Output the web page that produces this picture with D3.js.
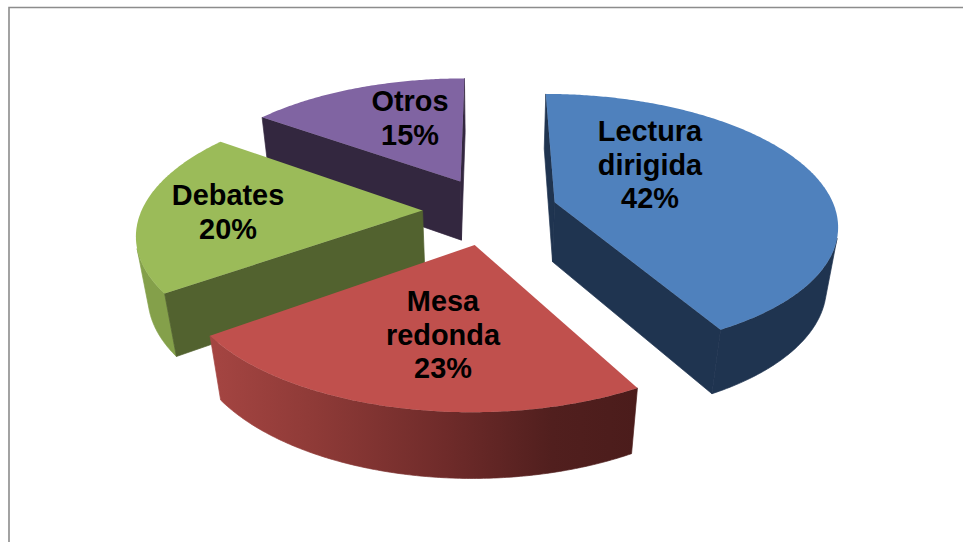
<!DOCTYPE html>
<html><head><meta charset="utf-8">
<script src="https://cdn.jsdelivr.net/npm/d3@7"></script>
<style>html,body{margin:0;padding:0;background:#fff;overflow:hidden}svg{display:block}</style>
</head><body><svg id="c" width="963" height="542"></svg>
<script>
const categories = ["Lectura dirigida", "Mesa redonda", "Debates", "Otros"];
const values = [42, 23, 20, 15];
const labelLines = [["Lectura", "dirigida", "42%"], ["Mesa", "redonda", "23%"], ["Debates", "20%"], ["Otros", "15%"]];
const topColors = ["#4f81bd", "#c0504d", "#9bbb59", "#8064a2"];
const cutColors = ["#1f3450", "#7a3230", "#52622f", "#33273f"];
const sideColors = ["#1f3450", "url(#redSide)", "#84a04a", "#33273f"];
const drawOrder = [3, 2, 0, 1];
const labelCenters = [[650, 141], [443, 311], [228, 205], [410, 111]];

const W = 963, H = 542, cx = 490, cy = 210.5, explodeX = 0.24, explodeY = 0.265, persp = 0.16, sink = 0.034, depth = 62, fontSize = 28.9, lineH = 33.6;
const svg = d3.select("#c");
const sx = d3.scaleLinear().domain([-1, 1]).range([-281, 281]);
const sy = d3.scaleLinear().domain([-1, 1]).range([-128, 128]);

function project(X, Y, Z) {
  const w = 1 - persp * Y + sink * Z;
  return [cx + sx(X) / w, cy + (sy(Y) + depth * Z) / w];
}
const arcs = d3.pie().sort(null).value(d => d)(values);
const poly = d3.line();
const area2 = p => d3.polygonArea(p);

const defs = svg.append("defs");

svg.append("path").attr("d", `M9,${H}V7.5H${W}`).attr("fill", "none").attr("stroke", "#8c8c8c").attr("stroke-width", 1.6);

const layer = svg.append("g");
drawOrder.forEach(i => {
  const a = arcs[i], mid = (a.startAngle + a.endAngle) / 2;
  const ox = Math.sin(mid) * explodeX, oy = -Math.cos(mid) * explodeY;
  const pt = (t, Z) => project(ox + Math.sin(t), oy - Math.cos(t), Z);
  const ap = Z => project(ox, oy, Z);
  const ts = d3.range(a.startAngle, a.endAngle, 0.01).concat([a.endAngle]);
  // outer wall: only segments facing the viewer
  const front = [];
  for (let k = 0; k < ts.length - 1; k++) {
    const q = [pt(ts[k], 0), pt(ts[k + 1], 0), pt(ts[k + 1], 1), pt(ts[k], 1)];
    if (area2(q) > 0) front.push(ts[k], ts[k + 1]);
  }
  if (i === 1) {
    const g = defs.append("linearGradient").attr("id", "redSide").attr("gradientUnits", "userSpaceOnUse")
      .attr("x1", pt(a.endAngle, 0)[0]).attr("x2", pt(a.startAngle, 0)[0]).attr("y1", 0).attr("y2", 0);
    [[0, "#a54542"], [0.25, "#8e3a37"], [0.55, "#6f2b2a"], [0.8, "#511f1e"], [1, "#4b1c1b"]].forEach(s => g.append("stop").attr("offset", s[0]).attr("stop-color", s[1]));
  }
  if (front.length) {
    const fp = front.map(t => pt(t, 0)).concat(front.slice().reverse().map(t => pt(t, 1)));
    layer.append("path").attr("d", poly(fp) + "Z").attr("fill", sideColors[i]).attr("stroke", sideColors[i]).attr("stroke-width", 0.7);
  }
  // cut faces, wound the same way as the outer wall
  [[ap(0), pt(a.startAngle, 0), pt(a.startAngle, 1), ap(1)],
   [pt(a.endAngle, 0), ap(0), ap(1), pt(a.endAngle, 1)]].forEach(q => {
    if (area2(q) > 0) layer.append("path").attr("d", poly(q) + "Z").attr("fill", cutColors[i]).attr("stroke", cutColors[i]).attr("stroke-width", 0.7);
  });
  // top
  const tp = [ap(0)].concat(ts.map(t => pt(t, 0)));
  layer.append("path").attr("d", poly(tp) + "Z").attr("fill", topColors[i]);
});

categories.forEach((c, i) => {
  const t = svg.append("text").attr("text-anchor", "middle")
    .attr("font-family", "'Liberation Sans', Arial, sans-serif").attr("font-weight", "bold")
    .attr("font-size", fontSize).attr("fill", "#000");
  labelLines[i].forEach((s, j) => t.append("tspan").attr("x", labelCenters[i][0]).attr("y", labelCenters[i][1] + j * lineH).text(s));
});
</script></body></html>
